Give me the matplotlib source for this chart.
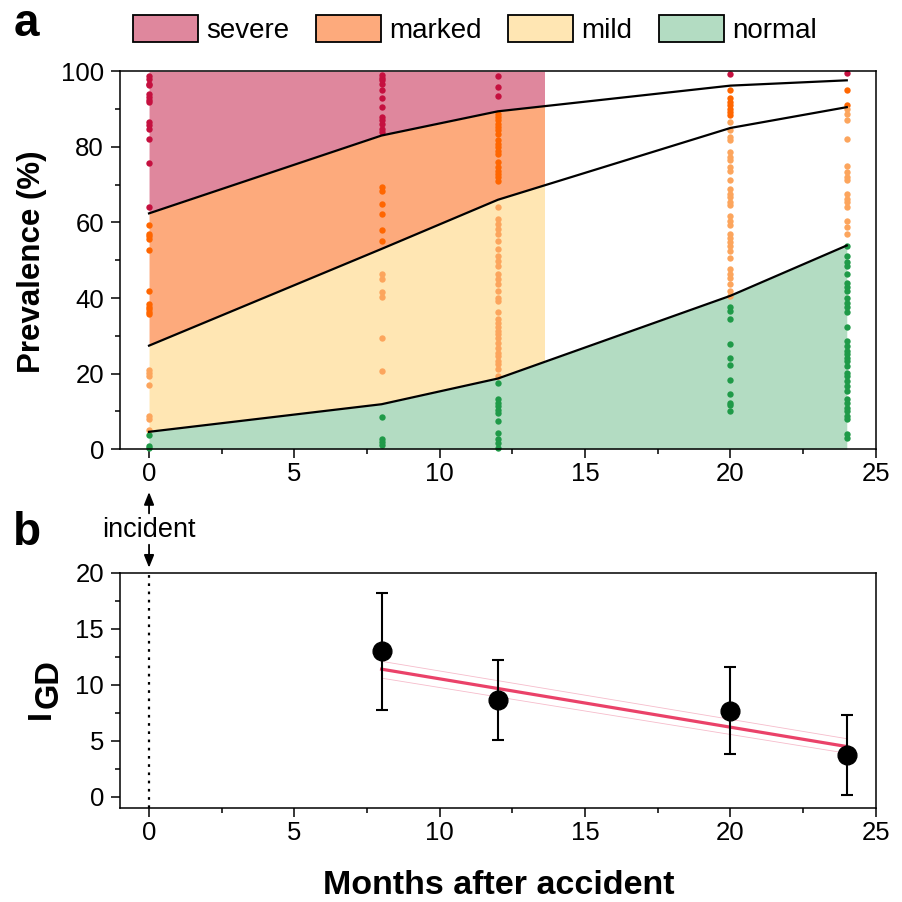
import matplotlib
matplotlib.use("Agg")
import matplotlib.pyplot as plt
from matplotlib.patches import Patch, Rectangle
from matplotlib.ticker import MultipleLocator

plt.rcParams["font.family"] = ["Liberation Sans", "DejaVu Sans"]

# ---- data ----
months = [0, 8, 12, 20, 24]

# category boundaries (black lines)
severe_lower = [62.4, 83.0, 89.4, 96.2, 97.6]
marked_lower = [27.4, 53.0, 66.0, 85.0, 90.5]
mild_lower = [4.6, 11.9, 18.7, 40.6, 53.9]
fill_end = 13.6  # severe/marked/mild shading stops here

# individual scores per visit, one list per month
severe_pts = [
    [98.7, 98.0, 96.7, 96.3, 94.1, 93.2, 92.3, 91.9, 86.6, 85.7, 84.8, 82.0, 75.7, 64.2],
    [98.9, 98.3, 97.6, 96.7, 95.0, 92.8, 90.5, 87.9, 87.0, 86.1, 84.8, 83.9],
    [98.8, 95.8, 93.4],
    [99.4],
    [99.6],
]
marked_pts = [
    [59.3, 56.9, 56.4, 55.5, 52.6, 41.9, 38.4, 37.7, 37.1, 36.4, 35.7],
    [69.3, 68.4, 64.9, 62.3, 58.1, 55.1],
    [88.8, 87.9, 87.0, 86.1, 85.2, 84.4, 83.5, 81.7, 80.8, 79.9, 79.0, 78.2,
     75.9, 74.6, 73.7, 72.9, 72.0, 70.9],
    [95.0, 92.8, 91.9, 91.0, 90.1, 89.2, 88.3],
    [95.1, 91.0],
]
mild_pts = [
    [20.9, 20.2, 19.4, 17.0, 8.8, 7.9, 5.2],
    [46.3, 45.0, 41.7, 40.3, 29.4, 20.7],
    [64.0, 60.9, 59.6, 58.3, 56.9, 55.2, 53.0, 51.2, 49.9, 48.5, 46.3, 45.0,
     43.7, 41.9, 40.1, 39.1, 36.2, 34.4, 33.5, 32.2, 31.3, 30.4, 29.5, 28.2,
     26.9, 25.5, 24.7, 23.3, 22.5, 21.1, 19.4],
    [86.6, 84.4, 82.6, 81.7, 78.6, 77.3, 76.4, 74.6, 73.7, 71.1, 68.9, 67.6,
     66.7, 65.3, 64.5, 61.8, 60.5, 59.2, 56.9, 56.0, 54.7, 53.8, 52.5, 50.7,
     47.6, 46.3, 45.4, 43.7, 41.9, 40.6],
    [90.1, 88.8, 87.0, 82.0, 74.8, 73.3, 72.0, 71.1, 67.6, 66.2, 65.3, 64.0,
     60.3, 58.7, 56.9],
]
normal_pts = [
    [3.7, 0.8, 0.2],
    [8.5, 2.6, 1.9, 1.1],
    [17.6, 13.2, 12.3, 11.4, 10.5, 9.6, 7.4, 4.3, 2.6, 1.7, 0.3],
    [37.5, 36.6, 34.4, 27.8, 24.2, 22.3, 18.2, 14.7, 12.3, 11.7, 10.1],
    [53.8, 51.2, 49.4, 48.5, 46.3, 44.1, 42.8, 41.9, 40.1, 38.8, 37.5, 36.2,
     32.2, 28.6, 27.3, 26.0, 25.1, 24.2, 23.3, 22.0, 20.2, 19.4, 18.0, 16.7,
     15.4, 13.2, 12.3, 11.0, 10.1, 8.8, 7.9, 3.9, 3.0],
]

# panel b: IGD index
igd_months = [8, 12, 20, 24]
igd_mean = [13.0, 8.66, 7.7, 3.75]
igd_err = [5.2, 3.6, 3.9, 3.55]
fit_months = [8, 24]
fit_mean = [11.4, 4.5]
fit_upper = [12.1, 5.2]
fit_lower = [10.6, 3.9]

categories = ["severe", "marked", "mild", "normal"]
fill_colors = ["#DF879D", "#FDAA7C", "#FFE6B3", "#B3DCC2"]
dot_colors = ["#C5103F", "#FF6600", "#FCA55D", "#1F9A48"]

fig = plt.figure(figsize=(9.02, 9.02), dpi=100)
ax_a = fig.add_axes([0.133, 0.502, 0.838, 0.419])
ax_b = fig.add_axes([0.133, 0.104, 0.838, 0.261])

# ---- panel a ----
upper = [[100] * len(months), severe_lower, marked_lower, mild_lower]
lower = [severe_lower, marked_lower, mild_lower, [0] * len(months)]
for i, cat in enumerate(categories):
    poly = ax_a.fill_between(months, lower[i], upper[i], color=fill_colors[i],
                             lw=0, zorder=1)
    if cat != "normal":
        clip = Rectangle((0, 0), fill_end, 100, transform=ax_a.transData)
        poly.set_clip_path(clip)

for pts, col in zip([severe_pts, marked_pts, mild_pts, normal_pts], dot_colors):
    for m, vals in zip(months, pts):
        ax_a.scatter([m] * len(vals), vals, s=21, color=col, lw=0, zorder=2,
                     clip_on=False)

for line in [severe_lower, marked_lower, mild_lower]:
    ax_a.plot(months, line, color="black", lw=1.6, zorder=3)

ax_a.set_xlim(-1, 25)
ax_a.set_ylim(0, 100)
ax_a.yaxis.set_major_locator(MultipleLocator(20))
ax_a.yaxis.set_minor_locator(MultipleLocator(10))

# ---- panel b ----
ax_b.axvline(0, color="black", ls=(0, (1.2, 2.5)), lw=1.6, zorder=1)
ax_b.plot(fit_months, fit_upper, color="#F6BCCB", lw=0.6, zorder=2)
ax_b.plot(fit_months, fit_lower, color="#F6BCCB", lw=0.6, zorder=2)
ax_b.plot(fit_months, fit_mean, color="#EA4269", lw=2.3, zorder=3)
ax_b.errorbar(igd_months, igd_mean, yerr=igd_err, fmt="o", color="black",
              ms=13.5, elinewidth=1.5, capsize=4, capthick=1.5, zorder=4)
ax_b.set_xlim(-1, 25)
ax_b.set_ylim(-1, 20)
ax_b.yaxis.set_major_locator(MultipleLocator(5))
ax_b.yaxis.set_minor_locator(MultipleLocator(2.5))

ax_b.text(0, 23.85, "incident", ha="center", va="center", fontsize=19.5,
          clip_on=False)
arrow_style = "-|>,head_length=0.75,head_width=0.3"
ax_b.annotate("", xy=(0, 27.2), xytext=(0, 25.3), annotation_clip=False,
              arrowprops=dict(arrowstyle=arrow_style, color="black", lw=1.3,
                              shrinkA=0, shrinkB=0))
ax_b.annotate("", xy=(0, 20.45), xytext=(0, 22.5), annotation_clip=False,
              arrowprops=dict(arrowstyle=arrow_style, color="black", lw=1.3,
                              shrinkA=0, shrinkB=0))

for ax in (ax_a, ax_b):
    ax.xaxis.set_major_locator(MultipleLocator(5))
    ax.xaxis.set_minor_locator(MultipleLocator(2.5))
    ax.tick_params(which="major", direction="out", length=6.5, width=1.1,
                   labelsize=18.5, top=False, right=False)
    ax.tick_params(which="minor", direction="out", length=3.6, width=1.1,
                   top=False, right=False)
    ax.tick_params(axis="x", which="major", pad=3)
    ax.tick_params(axis="y", which="major", pad=5)
    for sp in ax.spines.values():
        sp.set_linewidth(1.1)

# ---- labels ----
fig.text(0.0355, 0.7095, "Prevalence (%)", rotation=90, ha="center",
         va="center", fontsize=22.5, fontweight="bold")
fig.text(0.553, 0.018, "Months after accident", ha="center", va="center",
         fontsize=24.5, fontweight="bold")
fig.text(0.046, 0.2084, "I", rotation=90, ha="center", va="center",
         fontsize=23.5, fontweight="bold")
fig.text(0.055, 0.2417, "GD", rotation=90, ha="center", va="center",
         fontsize=23.5, fontweight="bold")
fig.text(0.029, 0.960, "a", ha="center", va="baseline", fontsize=33,
         fontweight="bold")
fig.text(0.030, 0.396, "b", ha="center", va="baseline", fontsize=33,
         fontweight="bold")

handles = [Patch(facecolor=c, edgecolor="black", lw=1.3) for c in fill_colors]
fig.legend(handles, categories, loc="center", bbox_to_anchor=(0.5266, 0.967),
           ncol=4, frameon=False, fontsize=20, handlelength=2.34,
           handleheight=1.1, handletextpad=0.3, columnspacing=0.95,
           borderpad=0, borderaxespad=0)

fig.savefig("out.png", dpi=100)
